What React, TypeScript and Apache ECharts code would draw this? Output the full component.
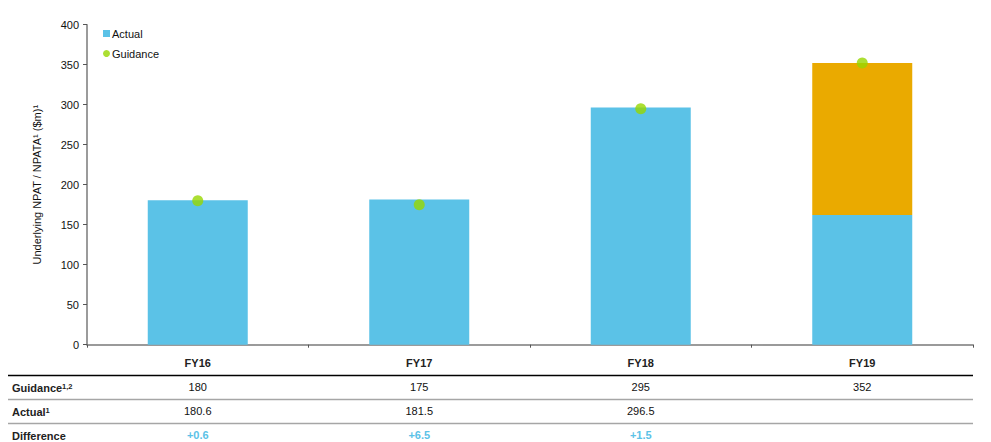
import React, { useEffect, useRef } from "react";
import * as echarts from "echarts";

const categories = ["FY16", "FY17", "FY18", "FY19"];
const actualValues = [180.6, 181.5, 296.5, 162];
const fy19Remainder = [null, null, null, 190];
const guidanceValues = [180, 175, 295, 352];
const guidanceRow = ["180", "175", "295", "352"];
const actualRow = ["180.6", "181.5", "296.5", ""];
const differenceRow = ["+0.6", "+6.5", "+1.5", ""];
const yMin = 0;
const yMax = 400;
const yInterval = 50;

const BLUE = "#5BC2E7";
const ORANGE = "#EAAA00";
const GREEN = "#97D700";
const FONT = "'Liberation Sans', Arial, sans-serif";

export default function App() {
  const ref = useRef<HTMLDivElement>(null);
  useEffect(() => {
    document.body.style.margin = "0";
    const chart = echarts.init(ref.current!, null, { renderer: "svg" });
    const axisY = 344.7;
    const rowAxis = (rows: string[], offset: number, color: string, bold: boolean) => ({
      type: "category",
      data: categories,
      position: "bottom",
      offset,
      axisLine: { show: false },
      axisTick: { show: false },
      axisLabel: {
        interval: 0,
        margin: 0,
        fontFamily: FONT,
        fontSize: 11,
        color,
        fontWeight: bold ? "bold" : "normal",
        formatter: (_v: string, i: number) => rows[i],
      },
    });
    const rowLabel = (main: string, sup: string, y: number) => ({
      type: "text",
      x: 12,
      y,
      style: {
        text: sup ? `{m|${main}}{s|${sup}}` : `{m|${main}}`,
        verticalAlign: "middle",
        rich: {
          m: { fontFamily: FONT, fontSize: 11, fontWeight: "bold", fill: "#222" },
          s: { fontFamily: FONT, fontSize: 7.5, fontWeight: "bold", fill: "#222", verticalAlign: "top" },
        },
      },
    });
    chart.setOption({
      animation: false,
      textStyle: { fontFamily: FONT },
      grid: { left: 87, right: 18, top: 24.7, bottom: 442 - axisY, containLabel: false },
      legend: {
        orient: "vertical",
        left: 103,
        top: 28,
        padding: 0,
        itemWidth: 7,
        itemHeight: 7,
        itemGap: 9,
        data: [
          { name: "Actual", icon: "rect" },
          { name: "Guidance", icon: "circle" },
        ],
        textStyle: { fontFamily: FONT, fontSize: 11, color: "#111", padding: [0, 0, 0, -3] },
      },
      xAxis: [
        {
          type: "category",
          data: categories,
          position: "bottom",
          axisLine: { lineStyle: { color: "#7a7a7a", width: 1.5 } },
          axisTick: { show: true, length: 3, lineStyle: { color: "#555" } },
          axisLabel: {
            interval: 0,
            margin: 13,
            fontFamily: FONT,
            fontSize: 11,
            fontWeight: "bold",
            color: "#222",
          },
        },
        rowAxis(guidanceRow, 37, "#111", false),
        rowAxis(actualRow, 61, "#111", false),
        rowAxis(differenceRow, 85, BLUE, true),
      ],
      yAxis: {
        type: "value",
        min: yMin,
        max: yMax,
        interval: yInterval,
        name: "Underlying NPAT / NPATA¹ ($m)¹",
        nameLocation: "middle",
        nameRotate: 90,
        nameGap: 45,
        nameTextStyle: { fontFamily: FONT, fontSize: 11, color: "#111" },
        splitLine: { show: false },
        axisLine: { show: true, lineStyle: { color: "#7a7a7a", width: 1.5 } },
        axisTick: { show: true, length: 4, lineStyle: { color: "#555" } },
        axisLabel: { fontFamily: FONT, fontSize: 11, color: "#111", margin: 8 },
      },
      series: [
        {
          name: "Actual",
          type: "bar",
          stack: "total",
          barWidth: 100,
          data: actualValues,
          itemStyle: { color: BLUE },
        },
        {
          name: "FY19 remainder",
          type: "bar",
          stack: "total",
          barWidth: 100,
          data: fy19Remainder,
          itemStyle: { color: ORANGE },
        },
        {
          name: "Guidance",
          type: "scatter",
          symbol: "circle",
          symbolSize: 11,
          data: guidanceValues,
          itemStyle: { color: GREEN },
          z: 5,
        },
      ],
      graphic: [
        { type: "line", shape: { x1: 8, y1: 375.5, x2: 973, y2: 375.5 }, style: { stroke: "#000", lineWidth: 1.5 } },
        { type: "line", shape: { x1: 8, y1: 399.5, x2: 973, y2: 399.5 }, style: { stroke: "#a6a6a6", lineWidth: 1.5 } },
        { type: "line", shape: { x1: 8, y1: 423.5, x2: 973, y2: 423.5 }, style: { stroke: "#a6a6a6", lineWidth: 1.5 } },
        rowLabel("Guidance", "1,2", 388),
        rowLabel("Actual", "1", 412),
        rowLabel("Difference", "", 436),
      ],
    });
    return () => chart.dispose();
  }, []);
  return <div ref={ref} style={{ width: 991, height: 442 }} />;
}
